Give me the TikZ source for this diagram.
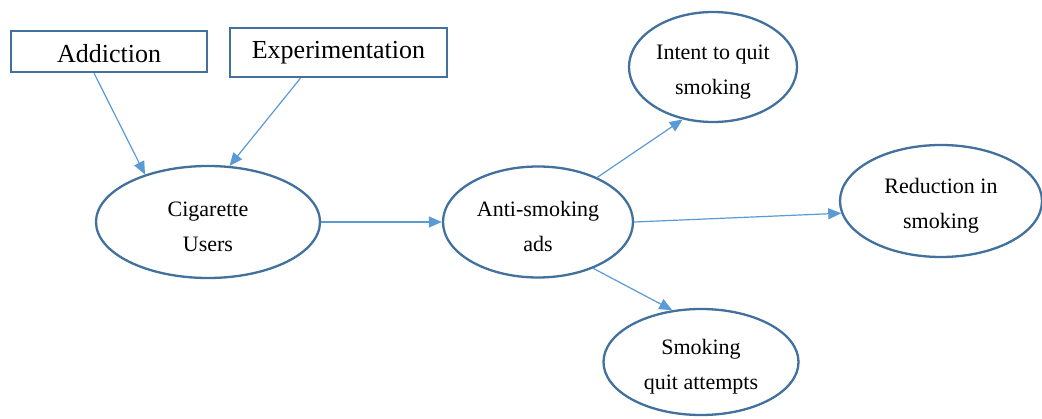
\documentclass[tikz,border=0pt]{standalone}
\usepackage{fontspec}
\setmainfont{Liberation Serif}
\newfontfamily\diagfont{Liberation Serif}
\usetikzlibrary{shapes.geometric,arrows.meta,calc}
\definecolor{edgeblue}{HTML}{41719C}
\definecolor{arrowblue}{HTML}{5B9BD5}
\tikzset{
  boxnode/.style={draw=edgeblue, line width=2.3pt, rectangle, inner sep=0pt,
    font=\diagfont\fontsize{26}{30}\selectfont},
  ovalnode/.style={draw=edgeblue, line width=2.3pt, ellipse, inner sep=0pt,
    align=center, font=\diagfont\fontsize{22}{35}\selectfont},
  link/.style={draw=arrowblue, line width=1.2pt,
    -{Triangle[length=13pt,width=11pt]}}
}
\begin{document}
\begin{tikzpicture}[x=1pt,y=-1pt]
\useasboundingbox[fill=white] (0,0) rectangle (1042,419);
\node[boxnode, minimum width=196pt, minimum height=41pt] (add) at (109,51.5) {\rule{0pt}{22pt}Addiction};
\node[boxnode, minimum width=217pt, minimum height=49pt] (exp) at (338.5,52.5) {Experimentation};
\node[ovalnode, minimum width=224pt, minimum height=112pt] (cig) at (208,222) {\rule{0pt}{24pt}Cigarette\\Users};
\node[ovalnode, minimum width=190pt, minimum height=111pt] (anti) at (538,222) {\rule{0pt}{24pt}Anti-smoking\\ads};
\node[ovalnode, minimum width=168pt, minimum height=110pt] (intent) at (713,67) {\rule{0pt}{24pt}Intent to quit\\smoking};
\node[ovalnode, minimum width=202pt, minimum height=112pt] (red) at (941,201) {\rule{0pt}{24pt}Reduction in\\smoking};
\node[ovalnode, minimum width=195pt, minimum height=106pt] (smk) at (701,362) {\rule{0pt}{24pt}Smoking\\quit attempts};
\draw[link] ($(add.south)+(-15,0)$) -- (cig.143);
\draw[link] ($(exp.south)+(-38,0)$) -- (cig.69);
\draw[link] (cig.east) -- (anti.west);
\draw[link] (anti.37) -- (intent.240);
\draw[link] (anti.east) -- (red.187);
\draw[link] (anti.-40) -- (smk.119);
\end{tikzpicture}
\end{document}
